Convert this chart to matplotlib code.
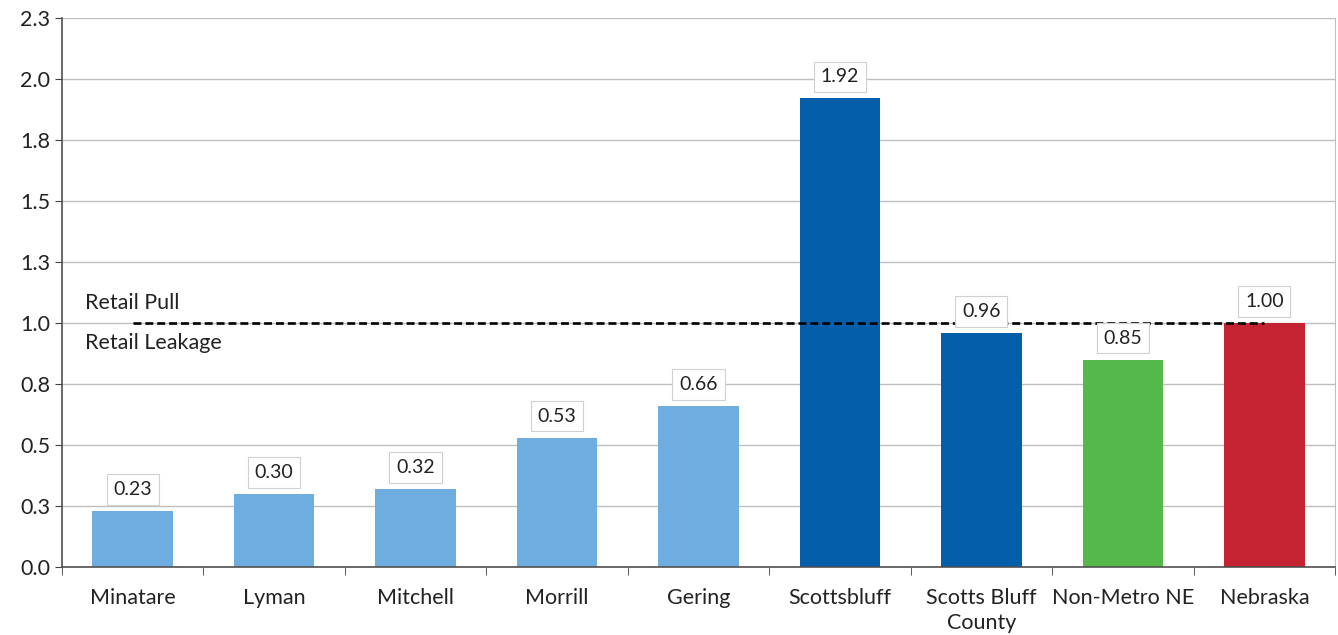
import matplotlib.pyplot as plt
import numpy as np

plt.rcParams['font.family'] = ['Lato', 'DejaVu Sans']

places = ["Minatare", "Lyman", "Mitchell", "Morrill", "Gering", "Scottsbluff",
          "Scotts Bluff\nCounty", "Non-Metro NE", "Nebraska"]
pull = [0.23, 0.30, 0.32, 0.53, 0.66, 1.92, 0.96, 0.85, 1.00]
colors = ["#6FACDF"] * 5 + ["#055EA9", "#055EA9", "#55B84A", "#C52232"]
yticks = [0, 0.25, 0.5, 0.75, 1.0, 1.25, 1.5, 1.75, 2.0, 2.25]

fig = plt.figure(figsize=(13.38, 6.35), dpi=100)
ax = fig.add_axes([0.0463, 0.1071, 0.9515, 0.8646])

x = np.arange(len(places))
ax.bar(x, pull, width=0.57, color=colors, zorder=2)

for xi, v in zip(x, pull):
    ax.annotate(f"{v:.2f}", (xi, v), xytext=(0, 15.5), textcoords="offset points",
                ha="center", va="center", fontsize=14, color="#222222", zorder=4,
                bbox=dict(boxstyle="square,pad=0.35", fc="white", ec="#D0D0D0", lw=0.8))

ax.plot([0, len(places) - 1], [1.0, 1.0], ls=(0, (3, 1.5)), color="black", lw=1.9, zorder=3)
ax.text(-0.34, 1.08, "Retail Pull", fontsize=15.5, va="center", ha="left", color="#222222")
ax.text(-0.34, 0.918, "Retail Leakage", fontsize=15.5, va="center", ha="left", color="#222222")

ax.set_xlim(-0.5, len(places) - 0.5)
ax.set_ylim(0, 2.25)
ax.set_yticks(yticks)
ax.set_yticklabels([f"{t + 0.0001:.1f}" for t in yticks])
ax.yaxis.grid(True, color="#BFBFBF", lw=1, zorder=0)
ax.set_axisbelow(True)

ax.set_xticks(x)
ax.set_xticklabels(places, linespacing=1.35)
ax.set_xticks(np.arange(-0.5, len(places), 1), minor=True)
ax.tick_params(axis="x", which="major", length=0, pad=15, labelsize=15.5, labelcolor="#222222")
ax.tick_params(axis="x", which="minor", length=6, direction="out", color="#404040")
ax.tick_params(axis="y", length=5, direction="out", color="#404040", labelsize=15.5, labelcolor="#222222")

ax.spines["top"].set_visible(False)
ax.spines["right"].set_color("#BFBFBF")
ax.spines["left"].set_color("#505050")
ax.spines["bottom"].set_color("#505050")
ax.spines["left"].set_linewidth(1.2)
ax.spines["bottom"].set_linewidth(1.2)

fig.savefig("out.png", dpi=100)
